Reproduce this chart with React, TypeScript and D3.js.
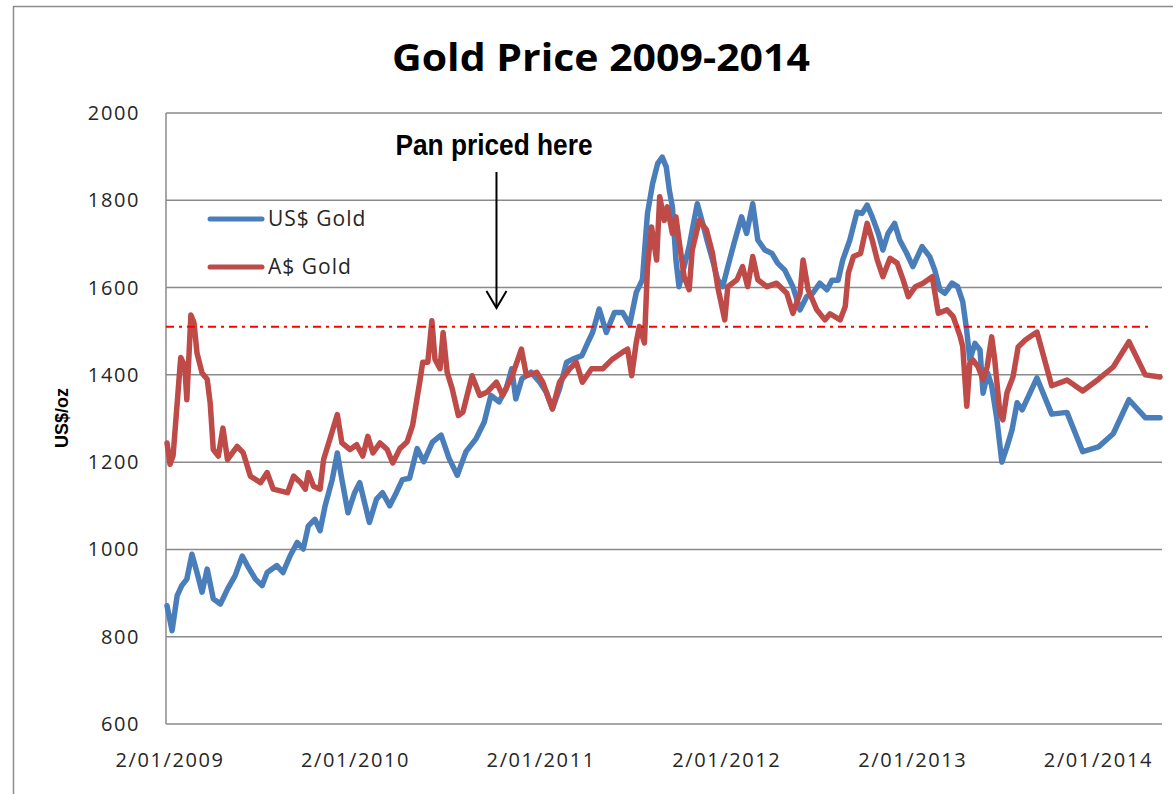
import React, { useEffect, useRef } from 'react';
import * as d3 from 'd3';

// US$ gold price (date, US$/oz)
const usGold: [string, number][] = [
    ['2009-01-02', 871], ['2009-01-12', 814], ['2009-01-22', 894], ['2009-01-31', 917],
    ['2009-02-10', 932], ['2009-02-20', 989], ['2009-03-02', 947], ['2009-03-12', 902],
    ['2009-03-22', 955], ['2009-04-03', 887], ['2009-04-17', 875], ['2009-05-01', 909],
    ['2009-05-16', 940], ['2009-05-30', 985], ['2009-06-09', 963], ['2009-06-25', 932],
    ['2009-07-08', 917], ['2009-07-18', 947], ['2009-08-06', 963], ['2009-08-18', 947],
    ['2009-09-01', 985], ['2009-09-15', 1016], ['2009-09-27', 1001], ['2009-10-07', 1054],
    ['2009-10-20', 1069], ['2009-10-30', 1043], ['2009-11-09', 1100], ['2009-11-23', 1160],
    ['2009-12-03', 1221], ['2009-12-12', 1160], ['2009-12-24', 1084], ['2010-01-06', 1130],
    ['2010-01-16', 1153], ['2010-02-04', 1062], ['2010-02-18', 1115], ['2010-03-02', 1130],
    ['2010-03-16', 1100], ['2010-03-29', 1130], ['2010-04-10', 1160], ['2010-04-24', 1163],
    ['2010-05-09', 1231], ['2010-05-22', 1201], ['2010-06-08', 1246], ['2010-06-25', 1262],
    ['2010-07-11', 1208], ['2010-07-27', 1170], ['2010-08-13', 1224], ['2010-09-02', 1254],
    ['2010-09-18', 1292], ['2010-10-01', 1353], ['2010-10-17', 1338], ['2010-10-31', 1368],
    ['2010-11-11', 1414], ['2010-11-19', 1345], ['2010-12-01', 1391], ['2010-12-19', 1406],
    ['2011-01-05', 1383], ['2011-01-18', 1360], ['2011-01-30', 1322], ['2011-02-13', 1368],
    ['2011-02-27', 1429], ['2011-03-11', 1436], ['2011-03-29', 1444], ['2011-04-10', 1475],
    ['2011-04-19', 1497], ['2011-05-02', 1551], ['2011-05-16', 1497], ['2011-06-01', 1543],
    ['2011-06-17', 1543], ['2011-07-01', 1515], ['2011-07-14', 1589], ['2011-07-26', 1618],
    ['2011-08-05', 1770], ['2011-08-15', 1838], ['2011-08-25', 1884], ['2011-09-03', 1899],
    ['2011-09-11', 1876], ['2011-09-17', 1823], ['2011-09-23', 1785], ['2011-09-30', 1663],
    ['2011-10-06', 1602], ['2011-10-16', 1648], ['2011-10-26', 1694], ['2011-11-01', 1732],
    ['2011-11-11', 1792], ['2011-11-20', 1754], ['2011-11-30', 1709], ['2011-12-11', 1663],
    ['2011-12-21', 1618], ['2011-12-31', 1602], ['2012-01-10', 1648], ['2012-01-24', 1709],
    ['2012-02-06', 1762], ['2012-02-16', 1724], ['2012-02-28', 1792], ['2012-03-09', 1709],
    ['2012-03-23', 1686], ['2012-04-06', 1678], ['2012-04-17', 1656], ['2012-05-01', 1640],
    ['2012-05-17', 1602], ['2012-05-31', 1549], ['2012-06-13', 1579], ['2012-06-25', 1587],
    ['2012-07-09', 1610], ['2012-07-23', 1595], ['2012-08-02', 1617], ['2012-08-14', 1617],
    ['2012-08-23', 1663], ['2012-09-06', 1709], ['2012-09-20', 1773], ['2012-09-30', 1770],
    ['2012-10-10', 1789], ['2012-10-20', 1762], ['2012-11-01', 1724], ['2012-11-10', 1686],
    ['2012-11-20', 1724], ['2012-12-03', 1747], ['2012-12-13', 1709], ['2012-12-27', 1678],
    ['2013-01-08', 1648], ['2013-01-26', 1694], ['2013-02-10', 1671], ['2013-02-20', 1640],
    ['2013-03-02', 1595], ['2013-03-12', 1587], ['2013-03-26', 1610], ['2013-04-06', 1602],
    ['2013-04-16', 1568], ['2013-04-24', 1500], ['2013-04-30', 1434], ['2013-05-10', 1472],
    ['2013-05-20', 1457], ['2013-05-26', 1358], ['2013-06-04', 1404], ['2013-06-12', 1375],
    ['2013-06-22', 1300], ['2013-07-02', 1200], ['2013-07-12', 1235], ['2013-07-22', 1274],
    ['2013-08-01', 1336], ['2013-08-11', 1320], ['2013-09-09', 1393], ['2013-10-08', 1310],
    ['2013-11-07', 1314], ['2013-12-08', 1224], ['2014-01-08', 1235], ['2014-02-06', 1265],
    ['2014-03-09', 1343], ['2014-04-10', 1302], ['2014-05-09', 1302],
];

// A$ gold price (date, A$/oz)
const audGold: [string, number][] = [
    ['2009-01-02', 1244], ['2009-01-08', 1195], ['2009-01-14', 1215], ['2009-01-22', 1335],
    ['2009-01-29', 1440], ['2009-02-06', 1420], ['2009-02-10', 1343], ['2009-02-18', 1537],
    ['2009-02-24', 1520], ['2009-03-02', 1450], ['2009-03-12', 1404], ['2009-03-22', 1390],
    ['2009-03-28', 1335], ['2009-04-03', 1229], ['2009-04-13', 1214], ['2009-04-22', 1278],
    ['2009-05-01', 1206], ['2009-05-20', 1236], ['2009-06-01', 1221], ['2009-06-15', 1168],
    ['2009-07-05', 1153], ['2009-07-18', 1176], ['2009-07-30', 1138], ['2009-08-27', 1130],
    ['2009-09-08', 1168], ['2009-09-22', 1153], ['2009-10-01', 1138], ['2009-10-07', 1176],
    ['2009-10-17', 1145], ['2009-10-30', 1138], ['2009-11-06', 1206], ['2009-11-20', 1259],
    ['2009-12-03', 1309], ['2009-12-12', 1244], ['2009-12-28', 1229], ['2010-01-10', 1240],
    ['2010-01-22', 1214], ['2010-02-01', 1259], ['2010-02-11', 1221], ['2010-02-25', 1244],
    ['2010-03-11', 1229], ['2010-03-22', 1198], ['2010-04-05', 1231], ['2010-04-19', 1246],
    ['2010-04-30', 1284], ['2010-05-14', 1383], ['2010-05-20', 1429], ['2010-05-30', 1429],
    ['2010-06-07', 1524], ['2010-06-13', 1436], ['2010-06-23', 1414], ['2010-06-29', 1497],
    ['2010-07-07', 1406], ['2010-07-17', 1368], ['2010-07-29', 1307], ['2010-08-07', 1315],
    ['2010-08-25', 1398], ['2010-09-09', 1353], ['2010-09-23', 1360], ['2010-10-12', 1383],
    ['2010-10-24', 1353], ['2010-11-12', 1398], ['2010-11-30', 1459], ['2010-12-10', 1398],
    ['2010-12-30', 1406], ['2011-01-11', 1383], ['2011-01-30', 1322], ['2011-02-13', 1383],
    ['2011-03-05', 1414], ['2011-03-18', 1429], ['2011-03-30', 1383], ['2011-04-17', 1414],
    ['2011-05-09', 1414], ['2011-05-28', 1436], ['2011-06-17', 1452], ['2011-06-27', 1459],
    ['2011-07-05', 1398], ['2011-07-14', 1475], ['2011-07-20', 1511], ['2011-07-30', 1473],
    ['2011-08-05', 1648], ['2011-08-13', 1739], ['2011-08-23', 1663], ['2011-08-29', 1808],
    ['2011-09-07', 1754], ['2011-09-13', 1785], ['2011-09-23', 1724], ['2011-09-30', 1762],
    ['2011-10-06', 1709], ['2011-10-16', 1625], ['2011-10-26', 1595], ['2011-11-01', 1686],
    ['2011-11-15', 1754], ['2011-11-29', 1732], ['2011-12-11', 1678], ['2011-12-21', 1602],
    ['2012-01-04', 1526], ['2012-01-10', 1602], ['2012-01-28', 1618], ['2012-02-08', 1648],
    ['2012-02-18', 1602], ['2012-02-28', 1671], ['2012-03-09', 1618], ['2012-03-27', 1602],
    ['2012-04-15', 1610], ['2012-05-05', 1587], ['2012-05-17', 1541], ['2012-05-31', 1587],
    ['2012-06-06', 1663], ['2012-06-16', 1595], ['2012-07-03', 1549], ['2012-07-19', 1526],
    ['2012-07-29', 1540], ['2012-08-18', 1526], ['2012-08-28', 1557], ['2012-09-03', 1633],
    ['2012-09-13', 1671], ['2012-09-27', 1678], ['2012-10-10', 1747], ['2012-10-20', 1709],
    ['2012-10-30', 1663], ['2012-11-10', 1625], ['2012-11-24', 1667], ['2012-12-08', 1656],
    ['2012-12-20', 1617], ['2012-12-30', 1579], ['2013-01-13', 1602], ['2013-01-28', 1610],
    ['2013-02-15', 1625], ['2013-02-27', 1541], ['2013-03-16', 1549], ['2013-03-28', 1534],
    ['2013-04-11', 1488], ['2013-04-16', 1465], ['2013-04-24', 1328], ['2013-04-30', 1427],
    ['2013-05-06', 1434], ['2013-05-16', 1419], ['2013-05-26', 1389], ['2013-06-03', 1418],
    ['2013-06-12', 1487], ['2013-06-18', 1434], ['2013-06-28', 1313], ['2013-07-04', 1297],
    ['2013-07-12', 1359], ['2013-07-24', 1396], ['2013-08-03', 1464], ['2013-08-17', 1480],
    ['2013-09-09', 1498], ['2013-10-08', 1375], ['2013-11-07', 1388], ['2013-12-08', 1363],
    ['2014-01-08', 1390], ['2014-02-06', 1418], ['2014-03-09', 1476], ['2014-04-10', 1400],
    ['2014-05-09', 1395],
];

const yTicks = [600, 800, 1000, 1200, 1400, 1600, 1800, 2000];
const xTickDates = ['2009-01-02', '2010-01-02', '2011-01-02', '2012-01-02', '2013-01-02', '2014-01-02'];
const seriesNames = ['US$ Gold', 'A$ Gold'];
const seriesColors = ['#4A7EBB', '#BE4B48'];
const panPrice = 1510;
const panDate = '2010-10-12';

const App = () => {
    const svgRef = useRef<SVGSVGElement>(null);

    useEffect(() => {
        document.body.style.margin = '0';
        const svg = d3.select(svgRef.current);
        svg.selectAll('*').remove();

        const width = 1173;
        const height = 794;
        const left = 166;
        const right = 1160;
        const top = 113;
        const bottom = 724;

        const parse = d3.timeParse('%Y-%m-%d');

        const x = d3.scaleTime()
            .domain([parse('2009-01-02')!, parse('2014-05-09')!])
            .range([left + 1, right]);
        const y = d3.scaleLinear()
            .domain([600, 2000])
            .range([bottom, top]);

        svg.attr('width', width).attr('height', height);

        // outer chart border
        svg.append('rect')
            .attr('x', 13.5)
            .attr('y', 6.5)
            .attr('width', 1200)
            .attr('height', 820)
            .attr('fill', '#fff')
            .attr('stroke', '#8c8c8c')
            .attr('stroke-width', 1.5);

        // title
        svg.append('text')
            .text('Gold Price 2009-2014')
            .attr('x', 601)
            .attr('y', 71)
            .attr('text-anchor', 'middle')
            .attr('font-family', 'Open Sans, sans-serif')
            .attr('font-size', 38)
            .attr('font-weight', 700)
            .attr('textLength', 418)
            .attr('lengthAdjust', 'spacingAndGlyphs')
            .attr('fill', '#000');

        // gridlines
        svg.append('g')
            .selectAll('line')
            .data(yTicks)
            .enter()
            .append('line')
            .attr('x1', left)
            .attr('x2', right + 2)
            .attr('y1', d => y(d))
            .attr('y2', d => y(d))
            .attr('stroke', '#8a8a8a')
            .attr('stroke-width', 1.5);

        // y axis line
        svg.append('line')
            .attr('x1', left)
            .attr('x2', left)
            .attr('y1', top)
            .attr('y2', bottom)
            .attr('stroke', '#8a8a8a')
            .attr('stroke-width', 1.5);

        // y tick labels
        svg.append('g')
            .selectAll('text')
            .data(yTicks)
            .enter()
            .append('text')
            .text(d => d)
            .attr('x', 140)
            .attr('y', d => y(d))
            .attr('dy', '0.35em')
            .attr('text-anchor', 'end')
            .attr('font-family', 'Open Sans, sans-serif')
            .attr('font-size', 20)
            .attr('letter-spacing', 1.6)
            .attr('fill', '#262626');

        // x tick labels
        const fmt = d3.timeFormat('%-d/%m/%Y');
        svg.append('g')
            .selectAll('text')
            .data(xTickDates)
            .enter()
            .append('text')
            .text(d => fmt(parse(d)!))
            .attr('x', d => x(parse(d)!) + 3)
            .attr('y', 767)
            .attr('text-anchor', 'middle')
            .attr('font-family', 'Open Sans, sans-serif')
            .attr('font-size', 20)
            .attr('letter-spacing', 1.6)
            .attr('fill', '#262626');

        // y axis title
        svg.append('text')
            .text('US$/oz')
            .attr('transform', 'translate(68, 418) rotate(-90)')
            .attr('text-anchor', 'middle')
            .attr('font-family', 'Liberation Sans Narrow, Arial Narrow, Liberation Sans, sans-serif')
            .attr('font-size', 18)
            .attr('font-weight', 700)
            .attr('fill', '#000');

        // series lines
        const line = d3.line<[string, number]>()
            .x(d => x(parse(d[0])!))
            .y(d => y(d[1]));

        [usGold, audGold].forEach((series, i) => {
            svg.append('path')
                .datum(series)
                .attr('d', line)
                .attr('fill', 'none')
                .attr('stroke', seriesColors[i])
                .attr('stroke-width', 5.5)
                .attr('stroke-linejoin', 'round')
                .attr('stroke-linecap', 'round');
        });

        // pan price reference line
        svg.append('line')
            .attr('x1', left)
            .attr('x2', right - 8)
            .attr('y1', y(panPrice))
            .attr('y2', y(panPrice))
            .attr('stroke', '#ff0000')
            .attr('stroke-width', 2)
            .attr('stroke-dasharray', '8,5,3,5');

        // annotation arrow
        const ax = x(parse(panDate)!);
        svg.append('line')
            .attr('x1', ax)
            .attr('x2', ax)
            .attr('y1', 172)
            .attr('y2', 307)
            .attr('stroke', '#000')
            .attr('stroke-width', 2);
        svg.append('path')
            .attr('d', `M${ax - 10},${291} L${ax},${308} L${ax + 10},${291}`)
            .attr('fill', 'none')
            .attr('stroke', '#000')
            .attr('stroke-width', 2);

        svg.append('text')
            .text('Pan priced here')
            .attr('x', 494)
            .attr('y', 155)
            .attr('text-anchor', 'middle')
            .attr('font-family', 'Liberation Sans Narrow, Arial Narrow, Liberation Sans, sans-serif')
            .attr('font-size', 29)
            .attr('font-weight', 700)
            .attr('textLength', 197)
            .attr('lengthAdjust', 'spacingAndGlyphs')
            .attr('fill', '#000');

        // legend
        const legend = svg.append('g')
            .attr('transform', 'translate(210, 219)');

        seriesNames.forEach((name, i) => {
            const item = legend.append('g')
                .attr('transform', `translate(0, ${i * 48})`);
            item.append('line')
                .attr('x1', 0)
                .attr('x2', 52)
                .attr('stroke', seriesColors[i])
                .attr('stroke-width', 5)
                .attr('stroke-linecap', 'round');
            item.append('text')
                .text(name)
                .attr('x', 58)
                .attr('dy', '0.35em')
                .attr('font-family', 'Open Sans, sans-serif')
                .attr('font-size', 21)
                .attr('letter-spacing', 1)
                .attr('fill', '#262626');
        });
    }, []);

    return <svg ref={svgRef} style={{ display: 'block' }}></svg>;
};

export default App;
